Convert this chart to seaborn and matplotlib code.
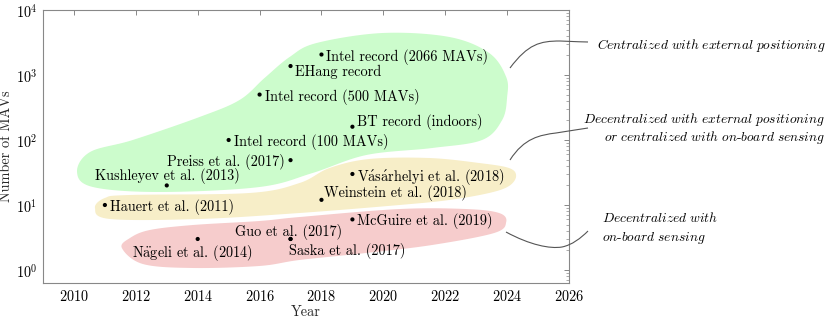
import numpy as np
import pandas as pd
import matplotlib
matplotlib.use("Agg")
import matplotlib.pyplot as plt
import matplotlib.ticker as mticker
import matplotlib.transforms as mtrans
from matplotlib.path import Path
from matplotlib.patches import PathPatch
import seaborn as sns

# ---------------- data ----------------
labels = ["Intel record (2066 MAVs)", "EHang record", "Intel record (500 MAVs)",
          "BT record (indoors)", "Intel record (100 MAVs)", "Preiss et al. (2017)",
          "Kushleyev et al. (2013)", "Hauert et al. (2011)",
          r"V$\mathrm{\acute{a}}$s$\mathrm{\acute{a}}$rhelyi et al. (2018)",
          "Weinstein et al. (2018)", "McGuire et al. (2019)", "Guo et al. (2017)",
          "Saska et al. (2017)", r"N$\mathrm{\ddot{a}}$geli et al. (2014)"]
years = [2018, 2017, 2016, 2019, 2015, 2017, 2013, 2011, 2019, 2018, 2019, 2017, 2017, 2014]
counts = [2066, 1374, 500, 160, 100, 49, 20, 10, 30, 12, 6, 3, 3, 3]

# region outlines (year, log10 of number of MAVs)
green_year = [2010.10, 2010.52, 2011.90, 2014.06, 2015.35, 2016.16, 2016.97, 2017.84, 2019.97,
              2022.13, 2023.42, 2023.97, 2024.00, 2023.84, 2023.19, 2021.58, 2019.45, 2017.71,
              2016.00, 2012.77, 2010.61]
green_log = [1.508, 1.815, 2.000, 2.354, 2.615, 2.954, 3.277, 3.492, 3.646,
             3.585, 3.338, 2.969, 2.662, 2.308, 2.000, 1.877, 1.769, 1.492,
             1.277, 1.200, 1.277]
yellow_year = [2010.68, 2011.00, 2011.81, 2015.68, 2017.29, 2018.26, 2019.55, 2021.48, 2023.10,
               2024.06, 2024.29, 2024.06, 2023.42, 2022.13, 2020.52, 2017.29, 2014.06, 2011.16]
yellow_log = [0.954, 1.108, 1.154, 1.185, 1.338, 1.569, 1.708, 1.723, 1.646,
              1.569, 1.446, 1.292, 1.185, 1.077, 1.000, 0.877, 0.785, 0.785]
red_year = [2011.55, 2011.81, 2012.45, 2013.84, 2016.00, 2017.29, 2020.52, 2022.68, 2023.74,
            2023.97, 2023.58, 2021.58, 2019.45, 2017.29, 2016.00, 2013.84, 2012.23]
red_log = [0.338, 0.492, 0.615, 0.692, 0.754, 0.815, 0.938, 0.938, 0.877,
           0.738, 0.569, 0.385, 0.262, 0.154, 0.062, 0.031, 0.092]

# label placement: (ha, dx px, dy px)
placement = [("left", 5, 0), ("left", 4, -4), ("left", 5, 0), ("left", 5, 7), ("left", 5, 0),
             ("right", -6, 0), ("center", 1, 11), ("left", 5, 0), ("left", 5, 0),
             ("left", 3, 9), ("left", 5, 0), ("center", -2, 9), ("left", -2, -10),
             ("center", -5, -11)]

# ---------------- style ----------------
sns.set_theme(style="white")
plt.rcParams["font.family"] = ["cmr10", "DejaVu Serif"]
plt.rcParams["mathtext.fontset"] = "cm"
plt.rcParams["axes.formatter.use_mathtext"] = True
plt.rcParams["axes.unicode_minus"] = False

FS = 10.3
W, H = 829, 319
fig = plt.figure(figsize=(W / 100, H / 100), dpi=100)
ax = fig.add_axes([43 / W, 1 - 283 / H, 526 / W, 273 / H])
ax.set_yscale("log")
ax.set_xlim(2009, 2026)
ax.set_ylim(10 ** -0.2, 1e4)


def smooth_closed(P, n=40):
    N = len(P)
    out = []
    t = np.linspace(0, 1, n, endpoint=False)[:, None]
    for i in range(N):
        p0, p1, p2, p3 = P[(i - 1) % N], P[i], P[(i + 1) % N], P[(i + 2) % N]
        pts = 0.5 * (2 * p1 + (-p0 + p2) * t + (2 * p0 - 5 * p1 + 4 * p2 - p3) * t ** 2
                     + (-p0 + 3 * p1 - 3 * p2 + p3) * t ** 3)
        out.append(pts)
    return np.vstack(out)


for xs, ls, col in [(green_year, green_log, "#ccfccc"),
                    (yellow_year, yellow_log, "#f7eec8"),
                    (red_year, red_log, "#f6cccc")]:
    disp = ax.transData.transform(np.column_stack([xs, 10 ** np.array(ls)]))
    sm = ax.transData.inverted().transform(smooth_closed(disp))
    ax.fill(sm[:, 0], sm[:, 1], color=col, lw=0, zorder=0)

df = pd.DataFrame({"year": years, "count": counts, "label": labels})
sns.scatterplot(data=df, x="year", y="count", color="black", s=9, edgecolor="none",
                ax=ax, zorder=3, legend=False)

for (x, y, lab), (ha, dx, dy) in zip(zip(years, counts, labels), placement):
    ax.annotate(lab, (x, y), xytext=(dx * 0.72, dy * 0.72), textcoords="offset points",
                ha=ha, va="center_baseline", fontsize=FS, color="black", zorder=4)

ax.set_xticks(range(2010, 2027, 2))
ax.yaxis.set_major_locator(mticker.LogLocator(base=10, numticks=10))
ax.yaxis.set_minor_locator(mticker.LogLocator(base=10, subs=np.arange(2, 10), numticks=50))
ax.yaxis.set_minor_formatter(mticker.NullFormatter())
ax.tick_params(which="both", direction="in", top=True, right=True, color="#888888",
               labelcolor="black", labelsize=FS, pad=4)
ax.tick_params(which="major", length=3.5, width=0.7)
ax.tick_params(which="minor", length=2, width=0.5)
for s in ax.spines.values():
    s.set_color("#888888")
    s.set_linewidth(0.8)
ax.set_xlabel("Year", fontsize=FS, labelpad=1)
ax.set_ylabel("Number of MAVs", fontsize=FS, labelpad=2)

# ---------------- side annotations (pixel coordinates) ----------------
pix = mtrans.Affine2D().scale(1 / W, -1 / H).translate(0, 1) + fig.transFigure
lc = "#555555"


def bez(verts):
    codes = [Path.MOVETO] + [Path.CURVE4] * (len(verts) - 1)
    fig.patches.append(PathPatch(Path(verts, codes), transform=pix, fill=False,
                                 edgecolor=lc, lw=0.8))


bez([(510, 68), (528, 44), (540, 41), (560, 41), (575, 41.5), (582, 42), (588, 42)])
bez([(510, 160), (524, 138), (540, 135), (556, 133), (570, 131), (580, 129), (588, 128)])
bez([(506, 232), (530, 245), (550, 249), (562, 247), (572, 245), (581, 238), (588, 231)])

it_kw = dict(transform=pix, fontsize=9.7, va="center_baseline", color="black")
fig.text(597, 43, r"$\mathit{Centralized\ with\ external\ positioning}$", ha="left", **it_kw)
fig.text(825, 117, r"$\mathit{Decentralized\ with\ external\ positioning}$", ha="right", **it_kw)
fig.text(825, 135, r"$\mathit{or\ centralized\ with\ on}$-$\mathit{board\ sensing}$",
         ha="right", **it_kw)
fig.text(602, 217, r"$\mathit{Decentralized\ with}$", ha="left", **it_kw)
fig.text(602, 236, r"$\mathit{on}$-$\mathit{board\ sensing}$", ha="left", **it_kw)

fig.savefig("out.png", dpi=100)
